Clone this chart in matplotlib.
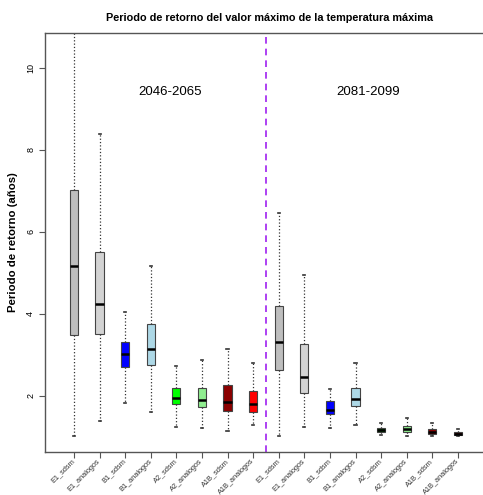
import matplotlib
matplotlib.use('Agg')
import matplotlib.pyplot as plt

plt.rcParams['font.family'] = ['Liberation Sans', 'DejaVu Sans']

# series labels (two periods, 8 boxes each)
labels = ['E1_sdsm', 'E1_analogos', 'B1_sdsm', 'B1_analogos',
          'A2_sdsm', 'A2_analogos', 'A1B_sdsm', 'A1B_analogos'] * 2
periods = ['2046-2065', '2081-2099']

# box statistics (years)
whislo = [1.02, 1.39, 1.84, 1.62, 1.24, 1.22, 1.15, 1.29,
          1.02, 1.24, 1.22, 1.29, 1.05, 1.03, 1.02, 1.02]
q1 = [3.49, 3.50, 2.71, 2.76, 1.80, 1.74, 1.63, 1.61,
      2.63, 2.07, 1.55, 1.75, 1.13, 1.13, 1.07, 1.04]
med = [5.17, 4.24, 3.02, 3.15, 1.94, 1.91, 1.86, 1.80,
       3.31, 2.47, 1.67, 1.93, 1.18, 1.20, 1.13, 1.08]
q3 = [7.01, 5.50, 3.31, 3.76, 2.20, 2.20, 2.26, 2.11,
      4.20, 3.27, 1.87, 2.19, 1.23, 1.27, 1.19, 1.11]
whishi = [11.5, 8.38, 4.04, 5.18, 2.73, 2.87, 3.15, 2.81,
          6.47, 4.96, 2.17, 2.81, 1.34, 1.46, 1.34, 1.20]

colors = ['#bebebe', '#d3d3d3', '#0000ff', '#add8e6',
          '#00ff00', '#90ee90', '#8b0000', '#ff0000',
          '#bebebe', '#d3d3d3', '#0000ff', '#add8e6',
          '#006400', '#90ee90', '#8b0000', '#5a0000']

stats = []
for i in range(len(labels)):
  stats.append(dict(whislo=whislo[i], q1=q1[i], med=med[i], q3=q3[i],
                    whishi=whishi[i], label=labels[i]))

positions = list(range(1, len(labels) + 1))

fig = plt.figure(figsize=(4.83, 4.95), dpi=100)
ax = fig.add_axes([45/483, 43/495, 438/483, 419/495])

bp = ax.bxp(stats, positions=positions, widths=0.32, capwidths=0.08,
            showfliers=False, patch_artist=True,
            boxprops=dict(edgecolor='#444444', linewidth=0.8),
            whiskerprops=dict(color='#333333', linestyle=':', linewidth=0.9),
            capprops=dict(color='#333333', linewidth=1.2),
            medianprops=dict(color='black', linewidth=1.8))
for patch, c in zip(bp['boxes'], colors):
  patch.set_facecolor(c)

# separator between periods
ax.axvline(8.5, color='#a020f0', linestyle=(0, (4, 3)), linewidth=1.2)

ax.text(4.75, 9.4, periods[0], ha='center', va='center', fontsize=9.5)
ax.text(12.5, 9.4, periods[1], ha='center', va='center', fontsize=9.5)

ax.set_xlim(-0.13, 16.98)
ax.set_ylim(0.634, 10.85)
ax.set_yticks([2, 4, 6, 8, 10])
ax.set_xticks(positions)
ax.set_xticklabels(labels, rotation=45, ha='right', va='center',
                   rotation_mode='anchor', fontsize=5.3, color='#333333')
for t in ax.get_yticklabels():
  t.set_rotation(90)
  t.set_va('center')
ax.tick_params(axis='y', labelsize=6.5, length=4, color='#555555', pad=3)
ax.tick_params(axis='x', length=4, color='#555555', pad=2)

for side in ['left', 'top', 'bottom']:
  ax.spines[side].set_color('#555555')
  ax.spines[side].set_linewidth(1.0)
ax.spines['right'].set_visible(False)

ax.set_ylabel('Periodo de retorno (años)', fontsize=8.2, fontweight='bold',
              labelpad=6)
fig.text(269/483, 1 - 18/495,
         'Periodo de retorno del valor máximo de la temperatura máxima',
         ha='center', va='center', fontsize=7.8, fontweight='bold')

fig.savefig('out.png', dpi=100)
